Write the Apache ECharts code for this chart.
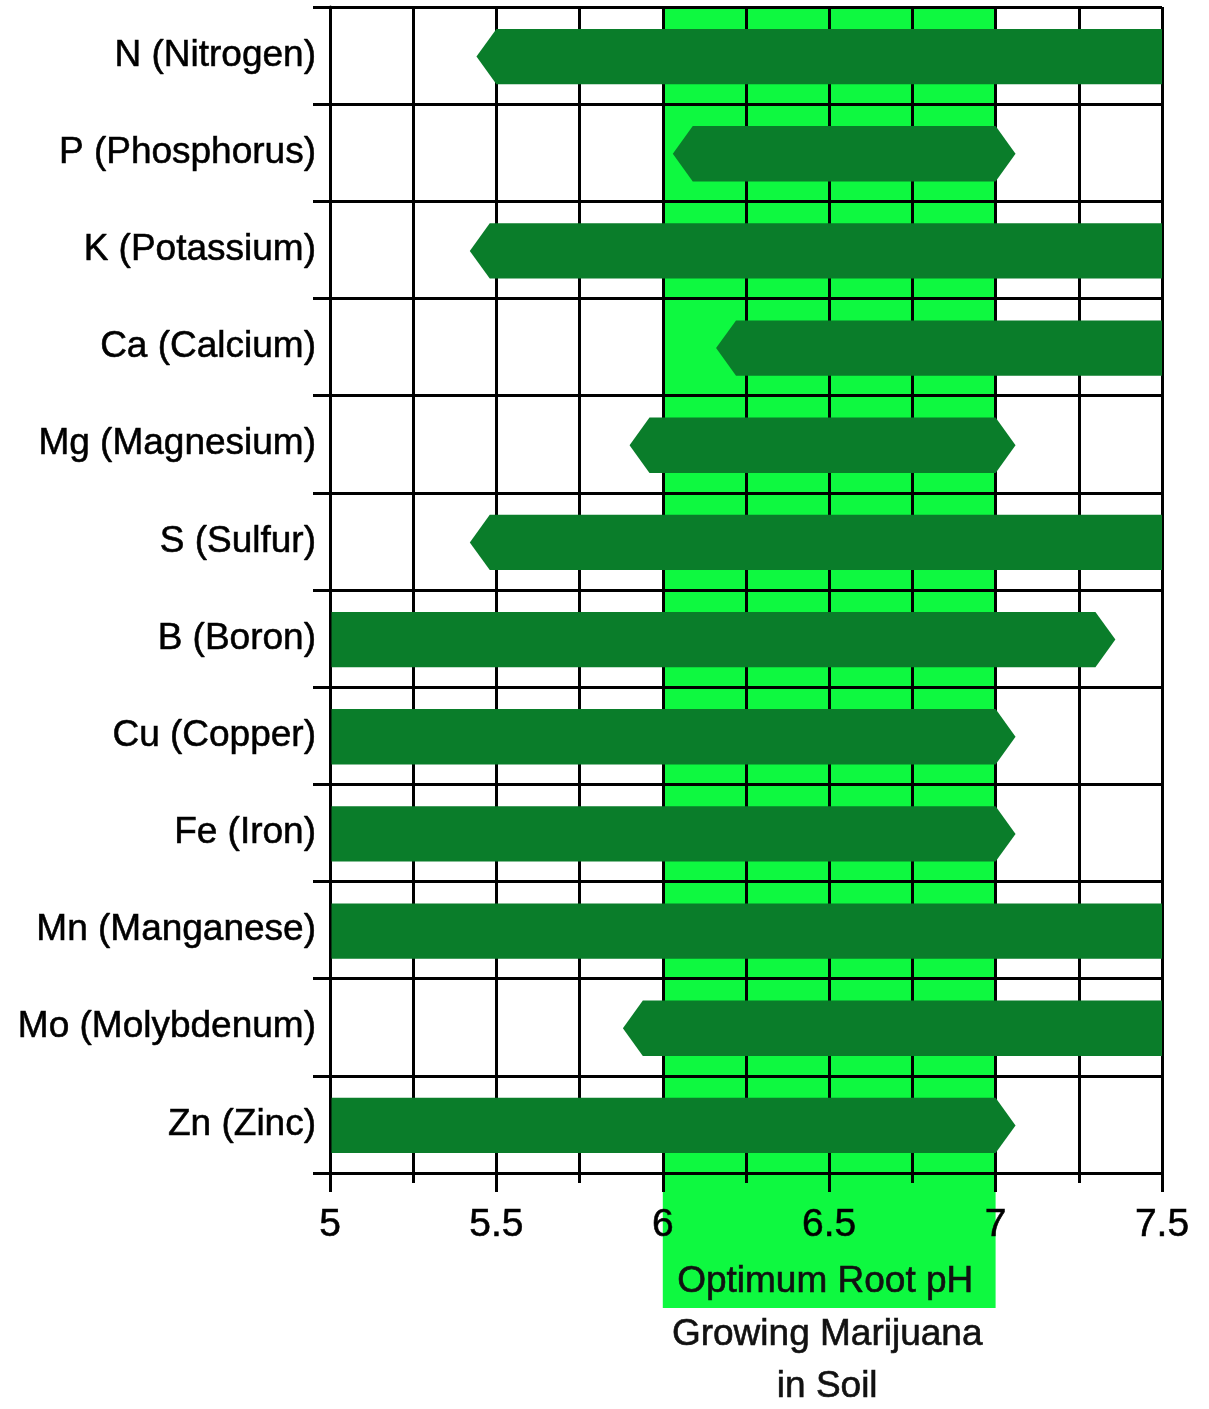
<!DOCTYPE html>
<html>
<head>
<meta charset="utf-8">
<script src="https://cdn.jsdelivr.net/npm/echarts@6/dist/echarts.min.js"></script>
<style>
  html, body { margin: 0; padding: 0; background: #ffffff; }
  #chart { width: 1209px; height: 1409px; }
</style>
</head>
<body>
<div id="chart"></div>
<script>
// Nutrient availability ranges by root-zone pH
const nutrients = [
  'N (Nitrogen)', 'P (Phosphorus)', 'K (Potassium)', 'Ca (Calcium)',
  'Mg (Magnesium)', 'S (Sulfur)', 'B (Boron)', 'Cu (Copper)',
  'Fe (Iron)', 'Mn (Manganese)', 'Mo (Molybdenum)', 'Zn (Zinc)'
];
const rangeStart = [5.5, 6.09, 5.48, 6.22, 5.96, 5.48, 5.0, 5.0, 5.0, 5.0, 5.94, 5.0];
const rangeEnd   = [7.5, 7.0, 7.5, 7.5, 7.0, 7.5, 7.3, 7.0, 7.0, 7.5, 7.5, 7.0];

// Optimum pH window for soil growing
const optimumRange = [6, 7];
const optimumTitle = 'Optimum Root pH';
const optimumNote = ['Growing Marijuana', 'in Soil'];

// pH axis
const phMin = 5;
const phMax = 7.5;
const phStep = 0.5;

const FONT = '"Liberation Sans", Arial, Helvetica, sans-serif';
const BAR_COLOR = '#0a7d2a';
const BAND_COLOR = '#0ef940';
const LINE = { color: '#000000', width: 3 };
// a hairline outline gives the labels a slightly heavier weight
const TEXT_WEIGHT = { textBorderColor: '#111111', textBorderWidth: 0.6 };

const rangeData = nutrients.map((n, i) => [i, rangeStart[i], rangeEnd[i]]);

function renderRange(params, api) {
  const idx = api.value(0);
  const lo = api.value(1);
  const hi = api.value(2);
  const a = api.coord([lo, idx]);
  const b = api.coord([hi, idx]);
  const h = api.size([0, 1])[1] * 0.57;
  const tip = h * 0.36;
  const cy = a[1] + 1;
  const top = cy - h / 2;
  const bot = cy + h / 2;
  const x0 = lo > phMin ? a[0] : a[0] + 1.5;
  const x1 = b[0];
  const pts = [[x0, top], [x1, top]];
  if (hi < phMax) pts.push([x1 + tip, cy]);
  pts.push([x1, bot], [x0, bot]);
  if (lo > phMin) pts.push([x0 - tip, cy]);
  return {
    type: 'polygon',
    shape: { points: pts },
    style: { fill: BAR_COLOR, stroke: null }
  };
}

function bandText(text, x, y) {
  return {
    type: 'text',
    style: Object.assign({
      text: text, x: x, y: y,
      fill: '#111111', font: '37px ' + FONT,
      textAlign: 'center', textVerticalAlign: 'middle',
      align: 'center', verticalAlign: 'middle',
      stroke: '#111111', lineWidth: 0.6
    })
  };
}

function renderBand(params, api) {
  const cs = params.coordSys;
  const x0 = api.coord([api.value(0), 0])[0];
  const x1 = api.coord([api.value(1), 0])[0];
  const cx = (x0 + x1) / 2;
  const bottom = cs.y + cs.height;
  return {
    type: 'group',
    children: [
      {
        type: 'rect',
        shape: { x: x0, y: cs.y, width: x1 - x0, height: cs.height + 135 },
        style: { fill: BAND_COLOR }
      },
      bandText(optimumTitle, cx - 4, bottom + 109),
      bandText(optimumNote[0], cx - 2, bottom + 162),
      bandText(optimumNote[1], cx - 2, bottom + 214)
    ]
  };
}

const chart = echarts.init(document.getElementById('chart'), null, { renderer: 'canvas' });

chart.setOption({
  animation: false,
  backgroundColor: '#ffffff',
  grid: { left: 330, right: 47, top: 7, bottom: 236, containLabel: false },
  xAxis: {
    type: 'value',
    min: phMin,
    max: phMax,
    interval: phStep,
    axisLine: { show: true, onZero: false, lineStyle: LINE },
    axisTick: { show: true, length: 19, lineStyle: LINE },
    minorTick: { show: true, splitNumber: 2, length: 10, lineStyle: LINE },
    splitLine: { show: true, lineStyle: LINE },
    minorSplitLine: { show: true, lineStyle: LINE },
    axisLabel: Object.assign({
      color: '#000000', fontSize: 39, fontFamily: FONT, margin: 33,
      showMinLabel: true, showMaxLabel: true
    }, TEXT_WEIGHT)
  },
  yAxis: {
    type: 'category',
    data: nutrients,
    inverse: true,
    axisLine: { show: true, lineStyle: LINE },
    axisTick: { show: true, length: 17, interval: 0, lineStyle: LINE },
    splitLine: { show: true, interval: 0, lineStyle: LINE },
    axisLabel: Object.assign({
      color: '#000000', fontSize: 37, fontFamily: FONT, margin: 14, interval: 0
    }, TEXT_WEIGHT)
  },
  series: [
    {
      type: 'custom',
      name: 'optimum',
      z: -1,
      clip: false,
      silent: true,
      renderItem: renderBand,
      encode: { x: [0, 1], y: 2 },
      data: [[optimumRange[0], optimumRange[1], 0]]
    },
    {
      type: 'custom',
      name: 'availability',
      z: 3,
      renderItem: renderRange,
      encode: { y: 0, x: [1, 2] },
      data: rangeData
    }
  ]
});
</script>
</body>
</html>
